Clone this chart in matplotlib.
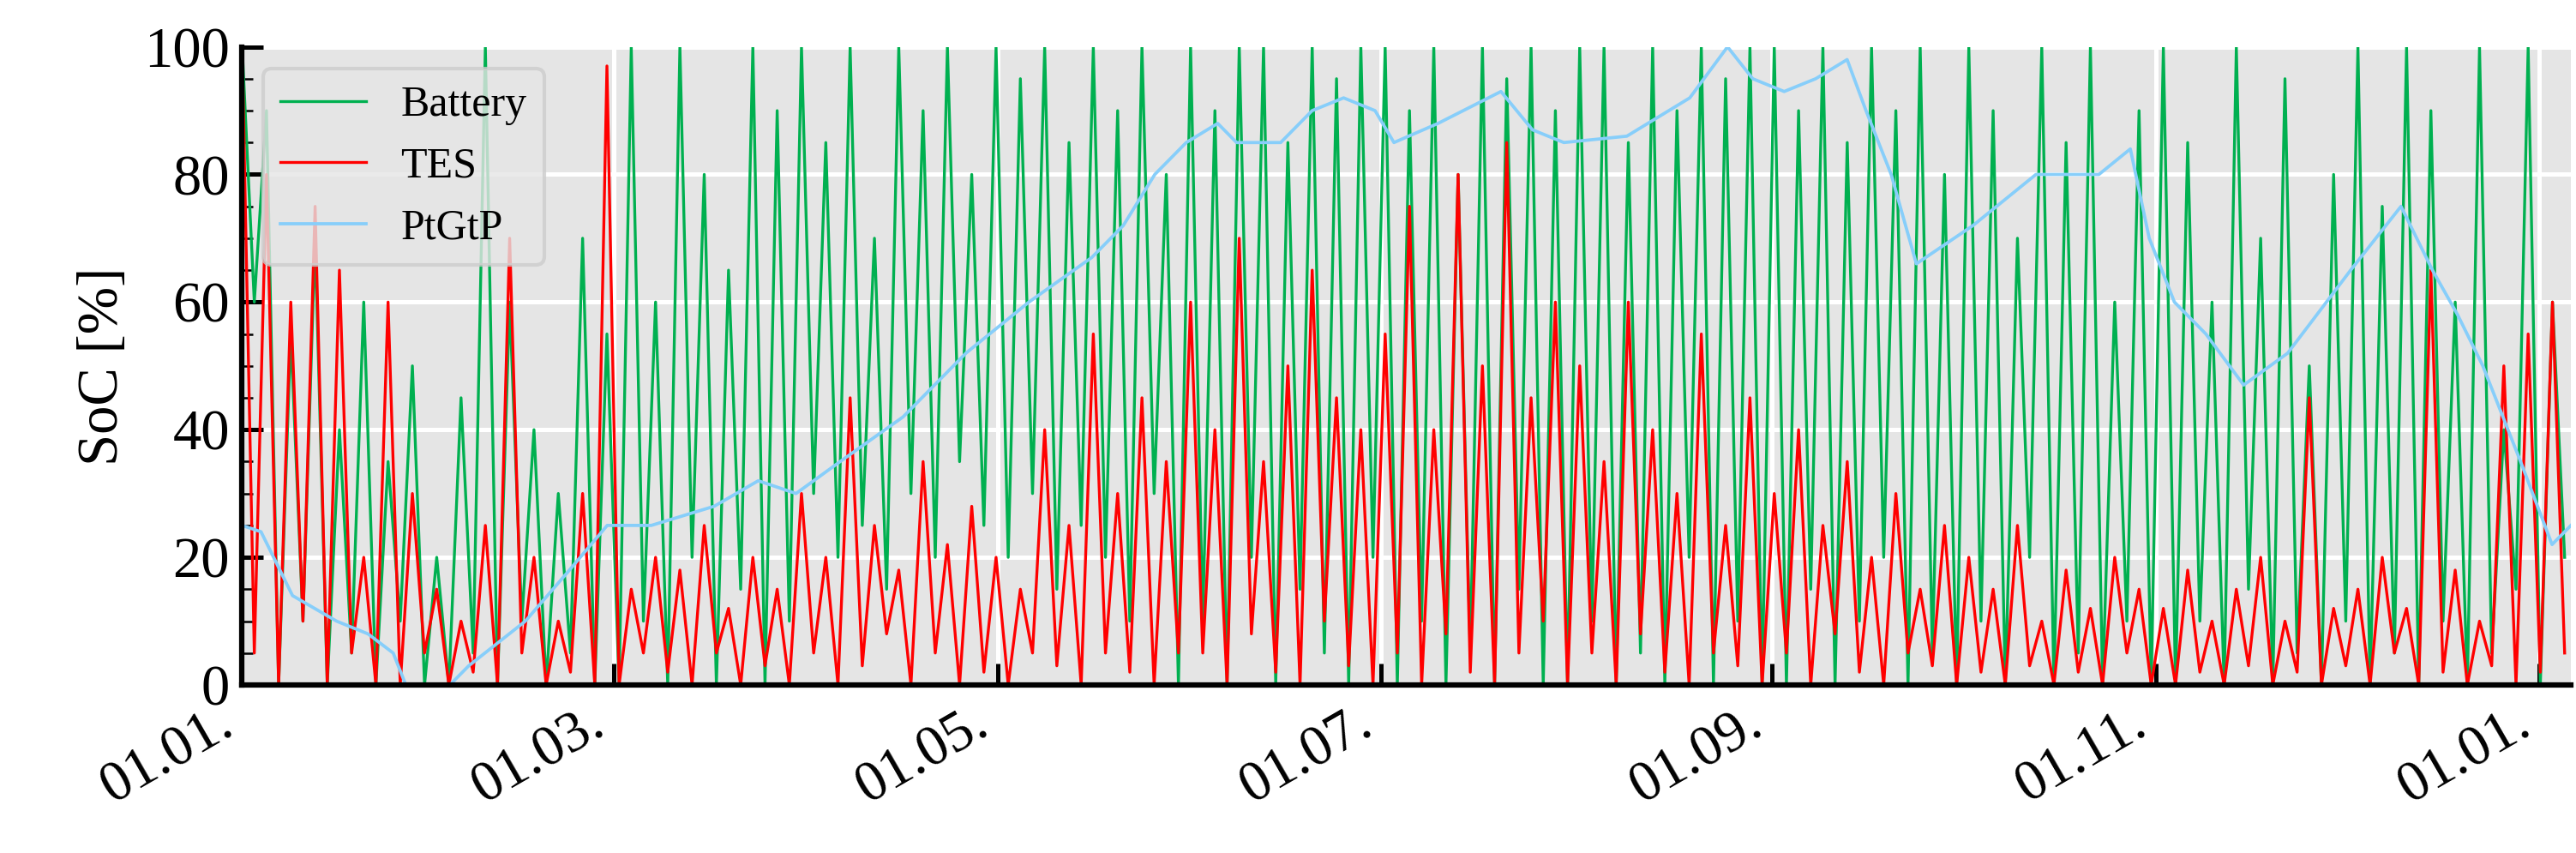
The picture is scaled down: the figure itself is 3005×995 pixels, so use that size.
import matplotlib
matplotlib.use("Agg")
import matplotlib.pyplot as plt
import numpy as np
import matplotlib.dates as mdates
import datetime as dt

battery = [100,60,90,0,55,10,70,0,40,5,60,0,35,10,50,0,
 20,0,45,5,100,0,60,10,40,0,30,5,70,0,
 55,0,100,10,60,0,100,20,80,0,65,15,100,0,90,10,
 100,30,85,20,100,25,70,15,100,30,90,20,100,35,80,25,
 100,20,95,30,100,15,85,25,100,20,90,10,100,30,80,0,
 100,10,90,0,100,20,100,0,85,15,100,5,95,0,100,20,
 100,0,90,10,100,0,80,5,100,0,95,15,100,0,90,0,
 100,10,100,0,85,5,100,0,90,20,100,0,95,10,100,0,
 100,0,90,15,100,0,85,10,100,20,90,0,100,5,80,0,
 100,10,90,0,70,20,100,0,85,5,100,0,60,10,90,0,
 100,0,85,10,60,0,100,15,70,0,95,5,50,0,80,10,
 100,0,75,5,100,0,90,10,60,0,100,5,40,15,100,0,60,20]
tes = [100,5,80,0,60,10,75,0,65,5,20,0,60,0,30,5,
 15,0,10,2,25,0,70,5,20,0,10,2,30,0,
 97,0,15,5,20,2,18,0,25,5,12,0,20,3,15,0,
 30,5,20,0,45,3,25,8,18,0,35,5,22,0,28,2,
 20,0,15,5,40,3,25,0,55,5,30,2,45,0,35,5,
 60,5,40,0,70,8,35,2,50,0,65,10,45,3,40,0,
 55,5,75,0,40,8,80,2,50,0,85,5,45,10,60,0,
 50,5,35,0,60,8,40,2,30,0,55,5,25,3,45,0,
 30,5,40,0,25,8,35,2,20,0,30,5,15,3,25,0,
 20,2,15,0,25,3,10,0,18,2,12,0,20,5,15,0,
 12,0,18,2,10,0,15,3,20,0,10,2,45,0,12,3,
 15,0,20,5,12,0,65,2,18,0,10,3,50,0,55,2,60,5]
ptg_days = [0,3,8,15,20,24,26,33,36,45,52,58,65,75,82,88,95,105,115,125,135,140,145,150,155,158,165,170,175,180,183,190,200,205,210,220,230,236,240,245,250,255,258,262,266,275,285,295,300,303,307,312,318,325,335,343,348,352,356,362,367,370]
ptg = [25,24,14,10,8,5,0,0,3,10,18,25,25,28,32,30,35,42,52,60,67,72,80,85,88,85,85,90,92,90,85,88,93,87,85,86,92,100,95,93,95,98,90,80,66,72,80,80,84,70,60,55,47,52,65,75,65,58,50,35,22,25]

plt.rcParams['font.family'] = ['Liberation Serif']
fig = plt.figure(figsize=(10.017, 3.317), dpi=300)
ax = fig.add_axes([0.094, 0.197, 0.904, 0.748])
ax.set_facecolor('#e5e5e5')
ax.grid(True, color='white', lw=1.2)
ax.set_axisbelow(True)
start = dt.datetime(2019, 1, 1)
def todates(days):
    return [start + dt.timedelta(days=float(d)) for d in days]
xb = np.linspace(0, 369, len(battery))
xt = np.linspace(0, 369, len(tes))
ax.plot(todates(xb), battery, color='#00b050', lw=0.8, label='Battery')
ax.plot(todates(xt), tes, color='#ff0000', lw=0.8, label='TES')
ax.plot(todates(ptg_days), ptg, color='#87cefa', lw=0.9, label='PtGtP')
ax.set_xlim(start, start + dt.timedelta(days=370))
ax.set_ylim(0, 100)
ax.xaxis.set_major_locator(mdates.MonthLocator(bymonth=[1,3,5,7,9,11]))
ax.xaxis.set_major_formatter(mdates.DateFormatter('%d.%m.'))
ax.yaxis.set_minor_locator(matplotlib.ticker.MultipleLocator(5))
ax.tick_params(direction='in', labelsize=16, length=6, width=1.2)
ax.tick_params(which='minor', direction='in', length=3)
for lbl in ax.get_xticklabels():
    lbl.set_rotation(30); lbl.set_ha('right')
for s in ['top', 'right']:
    ax.spines[s].set_visible(False)
for s in ['left', 'bottom']:
    ax.spines[s].set_linewidth(1.5)
ax.set_ylabel('SoC [%]', fontsize=16)
leg = ax.legend(loc='upper left', fontsize=12, facecolor='#e5e5e5', framealpha=0.8)
fig.savefig('out.png', dpi=300)
